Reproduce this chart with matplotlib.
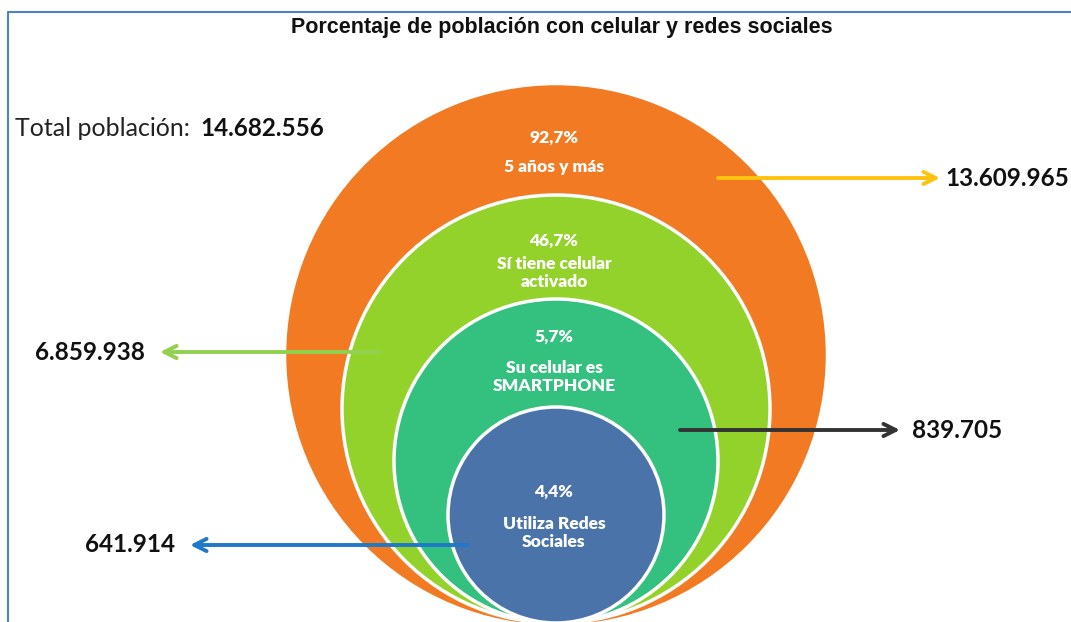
import matplotlib.pyplot as plt
from matplotlib.patches import Circle

# data
titulo = "Porcentaje de población con celular y redes sociales"
total_poblacion = "14.682.556"
porcentajes = ["92,7%", "46,7%", "5,7%", "4,4%"]
etiquetas = ["5 años y más", "Sí tiene celular\nactivado", "Su celular es\nSMARTPHONE", "Utiliza Redes\nSociales"]
cantidades = ["13.609.965", "6.859.938", "839.705", "641.914"]

# layout (pixel coordinates of the 1071x622 canvas)
colores = ["#F27A22", "#93D22B", "#34C07E", "#4A73AA"]
flechas = ["#FFC20E", "#92D050", "#333333", "#1F78C8"]
radios = [268, 214, 162, 108]
fondo = 623
cx = 556
pct_y = [138, 241, 337, 492]
lab_y = [167, 273, 377, 533]
flecha_y = [178, 352, 430, 545]
flecha_ini = [718, 380, 680, 468]
flecha_fin = [940, 160, 900, 190]
num_x = [945, 145, 912, 175]

fig = plt.figure(figsize=(10.71, 6.22), dpi=100)
ax = fig.add_axes([0, 0, 1, 1])
ax.set_xlim(0, 1071)
ax.set_ylim(622, 0)
ax.axis('off')

# blue frame
ax.plot([8, 8, 1071], [622, 12, 12], color="#4F81BD", lw=1.5, clip_on=False)

ax.text(562, 28, titulo, ha='center', va='center', fontsize=15.5,
        family='Liberation Sans', fontweight='bold', color='#111111')

ax.text(15, 128, "Total población: ", ha='left', va='center', fontsize=18,
        family='Lato', color='#222222')
ax.text(200, 128, total_poblacion, ha='left', va='center', fontsize=17.5,
        family='Lato', fontweight='bold', color='#111111')

for i in range(len(porcentajes)):
    r = radios[i]
    cy = fondo - r
    ax.add_patch(Circle((cx, cy), r, facecolor=colores[i],
                        edgecolor='white' if i > 0 else colores[i], lw=2.5, zorder=2 + i))

for i in range(len(porcentajes)):
    ax.text(cx - 2, pct_y[i], porcentajes[i], ha='center', va='center', fontsize=12.5,
            family='Lato', fontweight='heavy', color='white', zorder=10)
    ax.text(cx - 2, lab_y[i], etiquetas[i], ha='center', va='center', fontsize=12.5,
            family='Lato', fontweight='heavy', color='white', linespacing=1.2, zorder=10)

    ax.annotate("", xy=(flecha_fin[i], flecha_y[i]), xytext=(flecha_ini[i], flecha_y[i]),
                arrowprops=dict(arrowstyle='->', color=flechas[i], lw=2.8,
                                mutation_scale=22, shrinkA=0, shrinkB=0), zorder=12)
    ha = 'left' if flecha_fin[i] > flecha_ini[i] else 'right'
    ax.text(num_x[i], flecha_y[i], cantidades[i], ha=ha, va='center', fontsize=17.5,
            family='Lato', fontweight='bold', color='#111111', zorder=12)

fig.savefig("out.png", dpi=100)
